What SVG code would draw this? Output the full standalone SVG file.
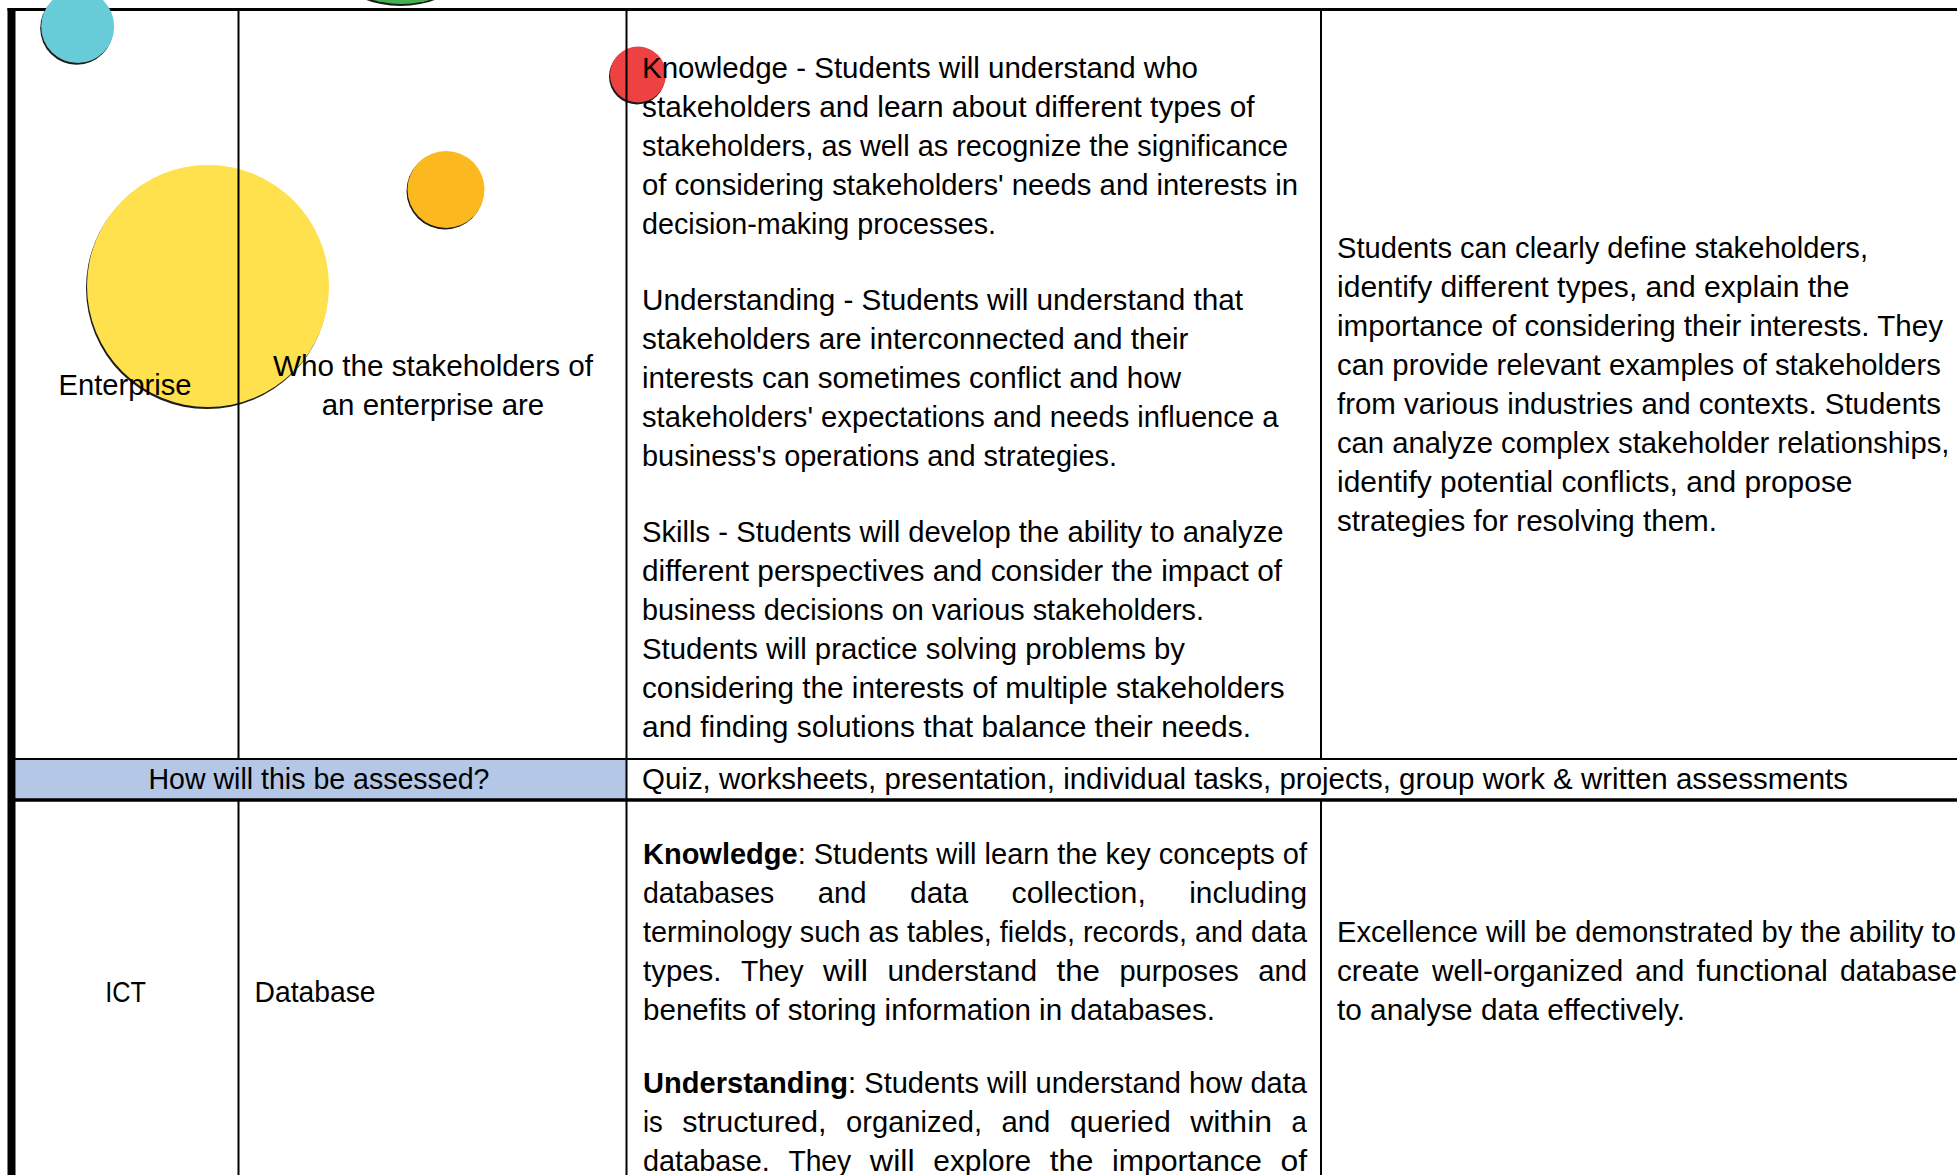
<svg xmlns="http://www.w3.org/2000/svg" width="1957" height="1175" viewBox="0 0 1957 1175">
<defs>
<style>
.t{font-family:"Liberation Sans",Arial,sans-serif;font-size:29px;fill:#000}
.b{font-weight:bold}
.ln{stroke:#000;fill:none}
.sh{fill:#1b1b1b}
</style>
<filter id="blur" x="-10%" y="-10%" width="120%" height="120%"><feGaussianBlur stdDeviation="0.7"/></filter>
</defs>
<rect x="0" y="0" width="1957" height="1175" fill="#fff"/>
<g id="assess-band"><rect x="15.5" y="760" width="611" height="39" fill="#B4C7E7"/></g>
<g id="top-border"><line class="ln" x1="7.5" y1="9.5" x2="1957" y2="9.5" stroke-width="3"/></g>
<g id="bubbles">
<circle class="sh" cx="400.5" cy="-94" r="100" filter="url(#blur)"/>
<circle cx="401.5" cy="-96" r="100" fill="#43B152"/>
<circle class="sh" cx="76.7" cy="28.3" r="36.5" filter="url(#blur)"/>
<circle cx="77.7" cy="26.5" r="36.5" fill="#68CBD8"/>
<circle class="sh" cx="207" cy="288" r="121" filter="url(#blur)"/>
<circle cx="208" cy="286" r="121" fill="#FFE14E"/>
<circle class="sh" cx="445" cy="191" r="38.5" filter="url(#blur)"/>
<circle cx="446" cy="189.5" r="38.5" fill="#FBB91F"/>
<circle class="sh" cx="637" cy="76.5" r="28" filter="url(#blur)"/>
<circle cx="638" cy="74.5" r="28" fill="#EE4141"/>
</g>
<g id="grid">
<rect x="7.5" y="8" width="8" height="1167" fill="#000"/>
<line class="ln" x1="238.5" y1="11" x2="238.5" y2="759" stroke-width="2"/>
<line class="ln" x1="238.5" y1="800" x2="238.5" y2="1175" stroke-width="2"/>
<line class="ln" x1="626.5" y1="11" x2="626.5" y2="1175" stroke-width="2"/>
<line class="ln" x1="1321" y1="11" x2="1321" y2="759" stroke-width="2"/>
<line class="ln" x1="1321" y1="800" x2="1321" y2="1175" stroke-width="2"/>
<line class="ln" x1="15" y1="759" x2="1957" y2="759" stroke-width="2"/>
<line class="ln" x1="15" y1="800" x2="1957" y2="800" stroke-width="3.5"/>
</g>
<g id="row1-subject">
<text class="t" x="125" y="395" text-anchor="middle" textLength="133" lengthAdjust="spacingAndGlyphs">Enterprise</text>
</g>
<g id="row1-topic">
<text class="t" x="433" y="375.5" text-anchor="middle" textLength="320" lengthAdjust="spacingAndGlyphs">Who the stakeholders of</text>
<text class="t" x="433" y="414.5" text-anchor="middle" textLength="222.5" lengthAdjust="spacingAndGlyphs">an enterprise are</text>
</g>
<g id="row1-objectives">
<text class="t" x="642" y="78" textLength="556" lengthAdjust="spacingAndGlyphs">Knowledge - Students will understand who</text>
<text class="t" x="642" y="117" textLength="612.5" lengthAdjust="spacingAndGlyphs">stakeholders and learn about different types of</text>
<text class="t" x="642" y="156" textLength="646" lengthAdjust="spacingAndGlyphs">stakeholders, as well as recognize the significance</text>
<text class="t" x="642" y="195" textLength="656" lengthAdjust="spacingAndGlyphs">of considering stakeholders' needs and interests in</text>
<text class="t" x="642" y="234" textLength="354" lengthAdjust="spacingAndGlyphs">decision-making processes.</text>
<text class="t" x="642" y="310" textLength="601" lengthAdjust="spacingAndGlyphs">Understanding - Students will understand that</text>
<text class="t" x="642" y="349" textLength="546.5" lengthAdjust="spacingAndGlyphs">stakeholders are interconnected and their</text>
<text class="t" x="642" y="388" textLength="539" lengthAdjust="spacingAndGlyphs">interests can sometimes conflict and how</text>
<text class="t" x="642" y="427" textLength="636.5" lengthAdjust="spacingAndGlyphs">stakeholders' expectations and needs influence a</text>
<text class="t" x="642" y="466" textLength="475" lengthAdjust="spacingAndGlyphs">business's operations and strategies.</text>
<text class="t" x="642" y="542" textLength="641.5" lengthAdjust="spacingAndGlyphs">Skills - Students will develop the ability to analyze</text>
<text class="t" x="642" y="581" textLength="640" lengthAdjust="spacingAndGlyphs">different perspectives and consider the impact of</text>
<text class="t" x="642" y="620" textLength="562" lengthAdjust="spacingAndGlyphs">business decisions on various stakeholders.</text>
<text class="t" x="642" y="659" textLength="543" lengthAdjust="spacingAndGlyphs">Students will practice solving problems by</text>
<text class="t" x="642" y="698" textLength="642.5" lengthAdjust="spacingAndGlyphs">considering the interests of multiple stakeholders</text>
<text class="t" x="642" y="737" textLength="609" lengthAdjust="spacingAndGlyphs">and finding solutions that balance their needs.</text>
</g>
<g id="row1-excellence">
<text class="t" x="1337" y="257.5" textLength="531" lengthAdjust="spacingAndGlyphs">Students can clearly define stakeholders,</text>
<text class="t" x="1337" y="296.5" textLength="512.5" lengthAdjust="spacingAndGlyphs">identify different types, and explain the</text>
<text class="t" x="1337" y="335.5" textLength="606" lengthAdjust="spacingAndGlyphs">importance of considering their interests. They</text>
<text class="t" x="1337" y="374.5" textLength="604" lengthAdjust="spacingAndGlyphs">can provide relevant examples of stakeholders</text>
<text class="t" x="1337" y="413.5" textLength="604" lengthAdjust="spacingAndGlyphs">from various industries and contexts. Students</text>
<text class="t" x="1337" y="452.5" textLength="612.5" lengthAdjust="spacingAndGlyphs">can analyze complex stakeholder relationships,</text>
<text class="t" x="1337" y="491.5" textLength="515.5" lengthAdjust="spacingAndGlyphs">identify potential conflicts, and propose</text>
<text class="t" x="1337" y="530.5" textLength="380" lengthAdjust="spacingAndGlyphs">strategies for resolving them.</text>
</g>
<g id="assessment-row">
<text class="t" x="319" y="789" text-anchor="middle" textLength="341" lengthAdjust="spacingAndGlyphs">How will this be assessed?</text>
<text class="t" x="642" y="789" textLength="1206" lengthAdjust="spacingAndGlyphs">Quiz, worksheets, presentation, individual tasks, projects, group work &amp; written assessments</text>
</g>
<g id="row2-subject">
<text class="t" x="125.5" y="1001.5" text-anchor="middle" textLength="40.7" lengthAdjust="spacingAndGlyphs">ICT</text>
</g>
<g id="row2-topic">
<text class="t" x="254.5" y="1001.5" textLength="121" lengthAdjust="spacingAndGlyphs">Database</text>
</g>
<g id="row2-objectives">
<text class="t" x="643" y="864" textLength="664" lengthAdjust="spacingAndGlyphs"><tspan class="b">Knowledge</tspan>: Students will learn the key concepts of</text>
<text class="t" y="903"><tspan x="643" textLength="131.3" lengthAdjust="spacingAndGlyphs">databases</tspan><tspan x="817.7" textLength="48.9" lengthAdjust="spacingAndGlyphs">and</tspan><tspan x="910" textLength="58.2" lengthAdjust="spacingAndGlyphs">data</tspan><tspan x="1011.6" textLength="134.2" lengthAdjust="spacingAndGlyphs">collection,</tspan><tspan x="1189.2" textLength="117.8" lengthAdjust="spacingAndGlyphs">including</tspan></text>
<text class="t" x="643" y="942" textLength="664" lengthAdjust="spacingAndGlyphs">terminology such as tables, fields, records, and data</text>
<text class="t" y="981"><tspan x="643" textLength="78.5" lengthAdjust="spacingAndGlyphs">types.</tspan><tspan x="740.9" textLength="62.8" lengthAdjust="spacingAndGlyphs">They</tspan><tspan x="823.1" textLength="44.9" lengthAdjust="spacingAndGlyphs">will</tspan><tspan x="887.4" textLength="149.7" lengthAdjust="spacingAndGlyphs">understand</tspan><tspan x="1056.5" textLength="43.5" lengthAdjust="spacingAndGlyphs">the</tspan><tspan x="1119.4" textLength="119.4" lengthAdjust="spacingAndGlyphs">purposes</tspan><tspan x="1258.2" textLength="48.9" lengthAdjust="spacingAndGlyphs">and</tspan></text>
<text class="t" x="643" y="1020" textLength="572" lengthAdjust="spacingAndGlyphs">benefits of storing information in databases.</text>
<text class="t" x="643" y="1092.5" textLength="664" lengthAdjust="spacingAndGlyphs"><tspan class="b">Understanding</tspan>: Students will understand how data</text>
<text class="t" y="1131.5"><tspan x="643" textLength="19.8" lengthAdjust="spacingAndGlyphs">is</tspan><tspan x="682.3" textLength="144.2" lengthAdjust="spacingAndGlyphs">structured,</tspan><tspan x="846.1" textLength="135.9" lengthAdjust="spacingAndGlyphs">organized,</tspan><tspan x="1001.5" textLength="48.9" lengthAdjust="spacingAndGlyphs">and</tspan><tspan x="1069.9" textLength="100.8" lengthAdjust="spacingAndGlyphs">queried</tspan><tspan x="1190.2" textLength="81.9" lengthAdjust="spacingAndGlyphs">within</tspan><tspan x="1291.6" textLength="15.3" lengthAdjust="spacingAndGlyphs">a</tspan></text>
<text class="t" y="1170.5"><tspan x="643" textLength="126.8" lengthAdjust="spacingAndGlyphs">database.</tspan><tspan x="788.4" textLength="62.8" lengthAdjust="spacingAndGlyphs">They</tspan><tspan x="869.8" textLength="44.9" lengthAdjust="spacingAndGlyphs">will</tspan><tspan x="933.3" textLength="97.9" lengthAdjust="spacingAndGlyphs">explore</tspan><tspan x="1049.8" textLength="43.5" lengthAdjust="spacingAndGlyphs">the</tspan><tspan x="1111.9" textLength="150" lengthAdjust="spacingAndGlyphs">importance</tspan><tspan x="1280.5" textLength="26.6" lengthAdjust="spacingAndGlyphs">of</tspan></text>
</g>
<g id="row2-excellence">
<text class="t" x="1337" y="942" textLength="619" lengthAdjust="spacingAndGlyphs">Excellence will be demonstrated by the ability to</text>
<text class="t" y="981"><tspan x="1337" textLength="82.6" lengthAdjust="spacingAndGlyphs">create</tspan><tspan x="1432" textLength="191.2" lengthAdjust="spacingAndGlyphs">well-organized</tspan><tspan x="1635.3" textLength="48.9" lengthAdjust="spacingAndGlyphs">and</tspan><tspan x="1696.5" textLength="131.3" lengthAdjust="spacingAndGlyphs">functional</tspan><tspan x="1840" textLength="131.3" lengthAdjust="spacingAndGlyphs">databases</tspan></text>
<text class="t" x="1337" y="1020" textLength="348" lengthAdjust="spacingAndGlyphs">to analyse data effectively.</text>
</g>
</svg>
